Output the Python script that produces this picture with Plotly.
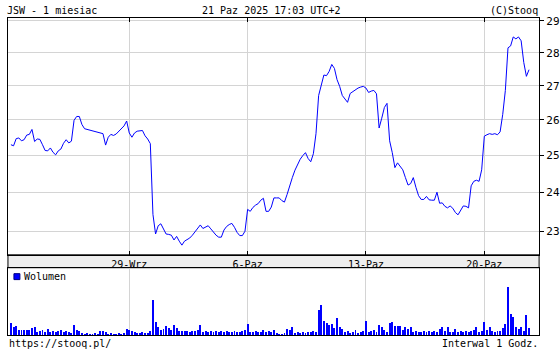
import math
import plotly.graph_objects as go

# ---- data (JSW, hourly, 1 month) ----
prices = [
    25.30, 25.27, 25.47, 25.49, 25.41, 25.44, 25.57, 25.59, 25.73,
    25.39, 25.46, 25.45, 25.30, 25.14, 25.13, 25.21, 25.09, 25.02,
    25.13, 25.18, 25.34, 25.44, 25.35, 25.40, 25.99, 26.10, 26.10,
    25.87, 25.75, 25.73, 25.72, 25.69, 25.68, 25.66, 25.62, 25.61,
    25.29, 25.51, 25.59, 25.56, 25.60, 25.68, 25.73, 25.83, 25.97,
    25.63, 25.51, 25.63, 25.68, 25.70, 25.70, 25.55, 25.46, 25.33,
    23.43, 22.93, 23.14, 23.19, 23.05, 22.93, 22.92, 22.90, 22.78,
    22.87, 22.75, 22.65, 22.75, 22.78, 22.83, 22.90, 22.98, 23.07,
    23.16, 23.07, 23.10, 23.14, 23.06, 22.97, 22.90, 22.85, 22.85,
    23.03, 23.12, 23.17, 23.20, 23.10, 22.97, 22.89, 22.89, 23.00,
    23.56, 23.51, 23.61, 23.67, 23.71, 23.80, 23.85, 23.51, 23.51,
    23.62, 23.86, 23.86, 23.86, 23.79, 23.75, 23.95, 24.19, 24.40,
    24.60, 24.76, 24.90, 25.00, 25.08, 24.92, 24.83, 25.05, 25.61,
    26.71, 27.01, 27.32, 27.30, 27.43, 27.64, 27.52, 27.18, 26.98,
    26.71, 26.61, 26.51, 26.77, 26.83, 26.89, 26.93, 26.96, 26.98,
    26.93, 26.80, 26.84, 26.86, 26.76, 25.77, 26.05, 26.36, 26.48,
    25.41, 25.08, 24.67, 24.80, 24.69, 24.61, 24.40, 24.20, 24.24,
    24.40, 24.14, 23.92, 23.82, 23.82, 23.90, 23.81, 23.80, 23.80,
    24.01, 23.72, 23.73, 23.64, 23.60, 23.65, 23.59, 23.48, 23.42,
    23.53, 23.65, 23.64, 23.60, 24.18, 24.30, 24.33, 24.30, 24.61,
    25.54, 25.58, 25.61, 25.59, 25.61, 25.58, 25.66, 26.16, 26.86,
    28.15, 28.21, 28.49, 28.43, 28.49, 28.37, 27.70, 27.28, 27.48,
]

volume = [
    13, 8, 9, 5, 5, 5, 5, 5, 7,
    8, 3, 4, 5, 3, 6, 3, 4, 3,
    4, 5, 3, 4, 3, 2, 11, 5, 4,
    2, 1, 2, 1, 1, 2, 1, 4, 4,
    3, 1, 2, 1, 1, 2, 1, 2, 6,
    5, 4, 3, 2, 2, 3, 2, 2, 4,
    36, 14, 8, 5, 6, 9, 7, 5, 11,
    7, 4, 4, 4, 4, 3, 4, 4, 5,
    11, 3, 4, 3, 4, 3, 4, 3, 4,
    3, 4, 3, 3, 4, 3, 3, 4, 5,
    12, 3, 3, 4, 3, 3, 5, 3, 4,
    3, 5, 2, 1, 1, 2, 6, 5, 8,
    2, 3, 2, 3, 2, 3, 3, 4, 3,
    26, 31, 15, 13, 11, 12, 7, 18, 8,
    6, 3, 4, 2, 3, 5, 2, 3, 4,
    15, 3, 4, 5, 3, 11, 8, 5, 3,
    13, 14, 9, 10, 10, 5, 8, 6, 8,
    3, 4, 3, 3, 4, 3, 4, 3, 4,
    3, 6, 8, 4, 8, 3, 3, 6, 3,
    4, 3, 4, 3, 4, 5, 8, 3, 4,
    14, 5, 8, 4, 3, 4, 4, 7, 12,
    49, 22, 19, 8, 6, 8, 4, 21, 7,
]

tick_idx = [45, 90, 135, 180]
tick_labels = ["29-Wrz", "6-Paz", "13-Paz", "20-Paz"]
price_ticks = [23, 24, 25, 26, 27, 28, 29]

idx = list(range(len(prices)))

W, H = 560, 350
FONT = "DejaVu Sans Mono"
def px(x):
    return x / W
def py(y):
    return 1 - y / H

xdom = [px(8), px(542)]
xrange_ = [-1.13, 200.83]
grid = "#d4d4d4"

fig = go.Figure()
fig.add_trace(go.Scatter(x=idx, y=prices, mode="lines",
                         line=dict(color="#0000ff", width=1),
                         xaxis="x", yaxis="y", showlegend=False,
                         hoverinfo="skip"))
fig.add_trace(go.Bar(x=idx, y=volume, width=0.36,
                     marker=dict(color="#0000ff", line=dict(width=0)),
                     xaxis="x2", yaxis="y2", showlegend=False,
                     hoverinfo="skip"))

fig.update_layout(
    width=W, height=H,
    margin=dict(l=0, r=0, t=0, b=0),
    paper_bgcolor="white", plot_bgcolor="white",
    font=dict(family=FONT, size=10, color="black"),
    bargap=0,
    xaxis=dict(domain=xdom, range=xrange_, anchor="y",
               tickvals=tick_idx, ticktext=tick_labels,
               ticks="inside", ticklen=4, tickcolor="black", tickwidth=1,
               showline=True, linecolor="black", linewidth=1, mirror="ticks",
               showgrid=True, gridcolor=grid, gridwidth=1, zeroline=False,
               tickfont=dict(family=FONT, size=10, color="black")),
    yaxis=dict(domain=[py(254), py(15)], type="log",
               range=[math.log10(22.41), math.log10(29.095)], anchor="x",
               side="right", tickvals=price_ticks,
               ticktext=[str(v) for v in price_ticks],
               ticks="outside", ticklen=4, tickcolor="black", tickwidth=1,
               showline=True, linecolor="black", linewidth=1, mirror=True,
               showgrid=True, gridcolor=grid, gridwidth=1, zeroline=False,
               tickfont=dict(family=FONT, size=11, color="black")),
    xaxis2=dict(domain=xdom, range=xrange_, anchor="y2",
                tickvals=tick_idx, showticklabels=False, ticks="",
                showline=True, linecolor="black", linewidth=1, mirror=True,
                showgrid=True, gridcolor=grid, gridwidth=1, zeroline=False),
    yaxis2=dict(domain=[py(335), py(267)], range=[0, 68], anchor="x2",
                showticklabels=False, ticks="", showgrid=False,
                showline=True, linecolor="black", linewidth=1, mirror=True,
                zeroline=False),
    shapes=[
        dict(type="rect", xref="paper", yref="paper",
             x0=px(8), x1=px(542), y0=py(267), y1=py(254),
             fillcolor="#eeeeee", line=dict(color="black", width=1),
             layer="below"),
        dict(type="rect", xref="paper", yref="paper",
             x0=px(14), x1=px(20), y0=py(279), y1=py(273),
             fillcolor="#0000ff", line=dict(color="#000080", width=1)),
    ],
    annotations=[
        dict(text="JSW - 1 miesiac", xref="paper", yref="paper",
             x=px(5), y=py(8), xanchor="left", yanchor="middle",
             showarrow=False, font=dict(family=FONT, size=10)),
        dict(text="21 Paz 2025 17:03 UTC+2", xref="paper", yref="paper",
             x=px(272), y=py(8), xanchor="center", yanchor="middle",
             showarrow=False, font=dict(family=FONT, size=10)),
        dict(text="(C)Stooq", xref="paper", yref="paper",
             x=px(543), y=py(8), xanchor="right", yanchor="middle",
             showarrow=False, font=dict(family=FONT, size=10)),
        dict(text="Wolumen", xref="paper", yref="paper",
             x=px(22), y=py(276), xanchor="left", yanchor="middle",
             showarrow=False, font=dict(family=FONT, size=10)),
        dict(text="https://stooq.pl/", xref="paper", yref="paper",
             x=px(7), y=py(343), xanchor="left", yanchor="middle",
             showarrow=False, font=dict(family=FONT, size=10)),
        dict(text="Interwal 1 Godz.", xref="paper", yref="paper",
             x=px(543), y=py(343), xanchor="right", yanchor="middle",
             showarrow=False, font=dict(family=FONT, size=10)),
    ],
)

fig.write_html("out.html")
